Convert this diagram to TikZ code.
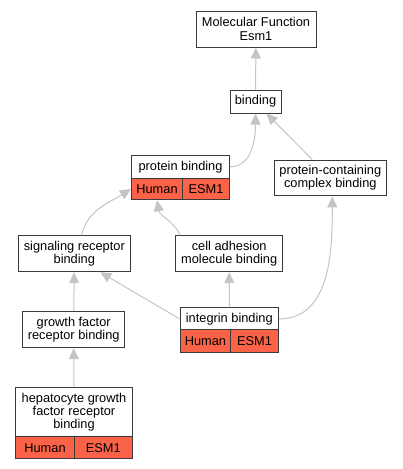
\documentclass[tikz,border=0pt]{standalone}
\usepackage{fontspec}
\setmainfont{Liberation Sans}
\usetikzlibrary{calc,arrows.meta}
\definecolor{boxline}{HTML}{3A3A3A}
\definecolor{hit}{HTML}{FA6347}
\definecolor{edgegray}{HTML}{C4C4C4}
\tikzset{
  term/.style={draw=boxline, line width=1pt, fill=white, inner sep=0pt, align=center,
    font=\fontsize{12.8}{13.3}\selectfont},
  tag/.style={term, fill=hit},
  link/.style={draw=edgegray, line width=1pt, -{Triangle[length=11pt,width=10pt,fill=edgegray]}},
}

\begin{document}
\begin{tikzpicture}[x=1pt,y=-1pt]
  \useasboundingbox (0,0) rectangle (403,469);

  % terms
  \node[term, minimum width=120pt, minimum height=36pt] (mf) at (256,29) {Molecular Function\\Esm1};
  \node[term, minimum width=51pt, minimum height=23pt] (bind) at (255.5,101.5) {binding};
  \node[term, minimum width=98pt, minimum height=22.5pt] (pb) at (180.5,166.8) {protein binding};
  \node[tag, minimum width=51pt, minimum height=21.5pt] (pbH) at (157,189) {Human};
  \node[tag, minimum width=47pt, minimum height=21.5pt] (pbE) at (206,189) {ESM1};
  \node[term, minimum width=112.5pt, minimum height=35.7pt] (pcc) at (330.3,178) {protein-containing\\complex binding};
  \node[term, minimum width=112.5pt, minimum height=36pt] (srb) at (74.3,253.7) {signaling receptor\\binding};
  \node[term, minimum width=107pt, minimum height=36pt] (cam) at (229.2,253.7) {cell adhesion\\molecule binding};
  \node[term, minimum width=102.5pt, minimum height=36pt] (gfr) at (73.7,329.7) {growth factor\\receptor binding};
  \node[term, minimum width=98.5pt, minimum height=22.5pt] (ib) at (229.3,318.9) {integrin binding};
  \node[tag, minimum width=50.5pt, minimum height=22.3pt] (ibH) at (205.4,341.1) {Human};
  \node[tag, minimum width=48pt, minimum height=22.3pt] (ibE) at (254.6,341.1) {ESM1};
  \node[term, minimum width=116.5pt, minimum height=49pt] (hgf) at (74,412.2) {hepatocyte growth\\factor receptor\\binding};
  \node[tag, minimum width=58.5pt, minimum height=22.3pt] (hgfH) at (45,447.8) {Human};
  \node[tag, minimum width=58pt, minimum height=22.3pt] (hgfE) at (103.3,447.8) {ESM1};

  % is-a links
  \draw[link] (bind) -- (mf);
  \draw[link] (pb.east) to[out=0,in=-90] (bind.south);
  \draw[link] ([xshift=-18pt]pcc.north) -- ([xshift=11pt]bind.south);
  \draw[link] ([xshift=7pt]srb.north) to[out=75,in=212] (pbH.west);
  \draw[link] ([xshift=5pt]cam.north west) to[out=115,in=-80] (pbH.south);
  \draw[link] (gfr) -- (srb);
  \draw[link] (hgf) -- (gfr);
  \draw[link] (ib.west) -- ([xshift=26pt]srb.south);
  \draw[link] (ib) -- (cam);
  \draw[link] (ib.east) to[out=0,in=-90] ([xshift=2pt]pcc.south);
\end{tikzpicture}
\end{document}
